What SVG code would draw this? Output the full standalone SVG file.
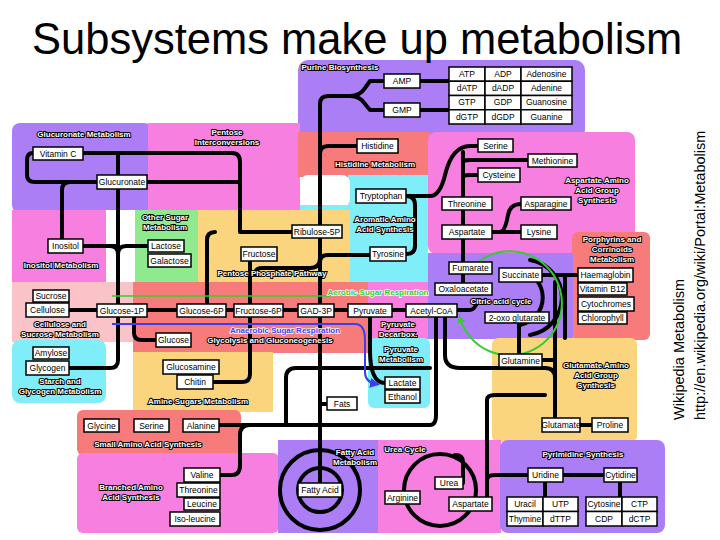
<svg xmlns="http://www.w3.org/2000/svg" width="720" height="540" viewBox="0 0 720 540">
<style>
.n rect{fill:#fff;stroke:#000;stroke-width:1.5}
.n text,.t{font-family:"Liberation Sans",Arial,sans-serif;font-size:8.5px;text-anchor:middle}
.l{font-family:"Liberation Sans",Arial,sans-serif;font-size:8px;font-weight:bold;fill:#fff;stroke:#000;stroke-width:2;paint-order:stroke;text-anchor:middle}
.c path,.c line,.c circle{fill:none;stroke:#000;stroke-width:4;stroke-linecap:round;stroke-linejoin:round}
</style>
<defs>
<marker id="ag" markerWidth="8" markerHeight="8" refX="5" refY="4" orient="auto" markerUnits="userSpaceOnUse"><path d="M0,0 L8,4 L0,8z" fill="#3c3"/></marker>
<marker id="ab" markerWidth="10" markerHeight="10" refX="6" refY="5" orient="auto" markerUnits="userSpaceOnUse"><path d="M0,0 L10,5 L0,10z" fill="#3c3cf0"/></marker>
</defs>
<rect width="720" height="540" fill="#fff"/>
<g id="regions">
<rect x="298" y="60" width="287" height="80" rx="10" fill="#ab7ef5"/>
<rect x="12" y="123" width="140" height="90" rx="8" fill="#ab7ef5"/>
<rect x="148" y="123" width="152" height="90" fill="#f77fe0"/>
<rect x="298" y="132" width="132" height="45" fill="#f77b7b"/>
<rect x="428" y="132" width="207" height="122" rx="8" fill="#f77fe0"/>
<rect x="348" y="175" width="80" height="107" fill="#80eef8"/>
<rect x="300" y="175" width="50" height="32" rx="8" fill="#fff"/>
<rect x="300" y="205" width="50" height="77" fill="#80eef8"/>
<rect x="12" y="210" width="94" height="72" fill="#f77fe0"/>
<rect x="106" y="210" width="29" height="72" fill="#fff"/>
<rect x="135" y="210" width="64" height="72" fill="#8fea8f"/>
<rect x="198" y="210" width="152" height="72" fill="#fad57d"/>
<rect x="572" y="232" width="78" height="108" rx="6" fill="#f77b7b"/>
<rect x="428" y="253" width="145" height="86" fill="#ab7ef5"/>
<rect x="12" y="282" width="94" height="60" fill="#f9c3c8"/>
<rect x="12" y="340" width="94" height="63" rx="8" fill="#80eef8"/>
<rect x="106" y="282" width="29" height="60" fill="#f9c3c8"/>
<rect x="133" y="282" width="236" height="71" fill="#f77b7b"/>
<rect x="368" y="282" width="60" height="57" fill="#f77fe0"/>
<rect x="368" y="338" width="62" height="70" rx="6" fill="#80eef8"/>
<rect x="133" y="352" width="140" height="60" fill="#fad57d"/>
<rect x="492" y="338" width="145" height="104" rx="6" fill="#fad57d"/>
<rect x="77" y="410" width="164" height="45" rx="6" fill="#f77b7b"/>
<rect x="77" y="453" width="202" height="80" rx="6" fill="#f77fe0"/>
<rect x="278" y="440" width="101" height="93" fill="#ab7ef5"/>
<rect x="378" y="440" width="123" height="93" fill="#f77fe0"/>
<rect x="500" y="440" width="165" height="93" rx="8" fill="#ab7ef5"/>
</g>
<text x="32" y="54" font-family="Liberation Sans,Arial,sans-serif" font-size="43.5">Subsystems make up metabolism</text>
<text transform="translate(684,420) rotate(-90)" font-family="Liberation Sans,Arial,sans-serif" font-size="14.5">Wikipedia Metabolism</text>
<text transform="translate(705,420) rotate(-90)" font-family="Liberation Sans,Arial,sans-serif" font-size="14.5">http://en.wikipedia.org/wiki/Portal:Metabolism</text>
<g id="connectors" class="c">
<path d="M83,153 H232 Q240,153 240,162 V232 H292"/>
<path d="M33,153 Q27,153 27,160 V175 Q27,182 35,182 H240"/>
<path d="M118,153 V360 Q118,368 110,368 H69"/>
<path d="M70,182 Q62,182 62,190 V246 H118"/>
<path d="M83,246 H110 Q118,246 118,254"/>
<path d="M148,246 H126 Q118,246 118,254"/>
<path d="M207,310 V240 Q207,232 215,232"/>
<path d="M69,310 H406"/>
<path d="M134,317 V333 Q134,340 142,340 H156"/>
<path d="M250,261 V374 Q250,382 242,382 H213"/>
<path d="M320,104 V490"/>
<path d="M320,104 Q320,96 328,96 H350 Q360,96 365,88 L370,81 H384"/>
<path d="M350,96 Q360,96 365,104 L370,110 H384"/>
<path d="M420,81 H449 M420,110 H449"/>
<path d="M320,154 Q320,146 328,146 H357"/>
<path d="M320,258 Q320,268 310,268 H262 Q255,268 255,275"/>
<path d="M320,262 Q320,255 328,255 H370"/>
<path d="M406,196 Q415,196 415,205 V246 Q415,254 406,254"/>
<path d="M406,196 H430 Q440,196 445,175 Q452,146 470,146 H478"/>
<path d="M463,152 V283"/>
<path d="M463,162 Q463,160 470,160 H528 M463,178 Q463,175 470,175 H478"/>
<path d="M492,232 H521 M500,232 Q505,232 508,215 Q510,204 521,204"/>
<path d="M542,275 H578 M565,275 V338"/>
<path d="M457,310 H470 Q475,310 478,300"/>
<path d="M530,260 A38,38 0 0 1 530,335 M520,270 A28,28 0 0 1 520,325"/>
<path d="M519,323 V354"/>
<path d="M445,310 V355 Q445,368 460,368 H545 Q555,368 555,378 V418"/>
<path d="M555,282 V418 M580,425 H592"/>
<path d="M542,360 H555"/>
<path d="M370,310 V350 Q370,383 385,383"/>
<path d="M219,425 H430 Q436,425 436,415 V317"/>
<path d="M430,368 H296 Q286,368 286,378 V425"/>
<path d="M320,404 H327"/>
<path d="M220,475 H232 Q240,475 240,465 V435 Q240,425 250,425"/>
<circle cx="320" cy="490" r="22"/>
<circle cx="320" cy="490" r="40"/>
<circle cx="440" cy="490" r="36"/>
<path d="M487,497 V400 Q487,395 495,395 H545"/>
<path d="M487,480 Q487,475 495,475 H528 M563,475 H604 M545,475 V497 M620,482 V497"/>
<path d="M463,483 V462 Q463,455 455,455"/>
</g>
<g id="arrows" fill="none">
<path d="M112,296 H330" stroke="#3c3" stroke-width="1.5"/>
<path d="M112,324 H355 Q365,324 365,340 V372 Q365,382 376,384" stroke="#3c3cf0" stroke-width="2" marker-end="url(#ab)"/>
<path d="M470,270 A52,52 0 1 1 460,318" stroke="#3c3" stroke-width="2" marker-end="url(#ag)"/>
</g>
<g id="nodes">
<g class="n" id="n-vitc"><rect x="33" y="147" width="50" height="13"/><text x="58" y="157">Vitamin C</text></g>
<g class="n" id="n-glucuronate"><rect x="97" y="175" width="50" height="14"/><text x="122" y="185">Glucuronate</text></g>
<g class="n" id="n-inositol"><rect x="48" y="239" width="35" height="14"/><text x="65.5" y="249">Inositol</text></g>
<g class="n" id="n-lactose"><rect x="148" y="240" width="36" height="12"/><text x="166" y="249">Lactose</text></g>
<g class="n" id="n-galactose"><rect x="148" y="254" width="43" height="13"/><text x="169.5" y="264">Galactose</text></g>
<g class="n" id="n-fructose"><rect x="241" y="247" width="36" height="14"/><text x="259" y="257">Fructose</text></g>
<g class="n" id="n-ribulose"><rect x="292" y="225" width="50" height="13"/><text x="317" y="235">Ribulose-5P</text></g>
<g class="n" id="n-amp"><rect x="384" y="74" width="36" height="14"/><text x="402" y="84">AMP</text></g>
<g class="n" id="n-gmp"><rect x="384" y="103" width="36" height="14"/><text x="402" y="113">GMP</text></g>
<g class="n" id="n-purines">
<rect x="449" y="67" width="36" height="14.25"/><rect x="485" y="67" width="36" height="14.25"/><rect x="521" y="67" width="51" height="14.25"/>
<rect x="449" y="81.25" width="36" height="14.25"/><rect x="485" y="81.25" width="36" height="14.25"/><rect x="521" y="81.25" width="51" height="14.25"/>
<rect x="449" y="95.5" width="36" height="14.25"/><rect x="485" y="95.5" width="36" height="14.25"/><rect x="521" y="95.5" width="51" height="14.25"/>
<rect x="449" y="109.75" width="36" height="14.25"/><rect x="485" y="109.75" width="36" height="14.25"/><rect x="521" y="109.75" width="51" height="14.25"/>
<text x="467" y="77">ATP</text><text x="503" y="77">ADP</text><text x="546.5" y="77">Adenosine</text>
<text x="467" y="91">dATP</text><text x="503" y="91">dADP</text><text x="546.5" y="91">Adenine</text>
<text x="467" y="105">GTP</text><text x="503" y="105">GDP</text><text x="546.5" y="105">Guanosine</text>
<text x="467" y="120">dGTP</text><text x="503" y="120">dGDP</text><text x="546.5" y="120">Guanine</text>
</g>
<g class="n" id="n-histidine"><rect x="357" y="139" width="41" height="14"/><text x="377.5" y="149">Histidine</text></g>
<g class="n" id="n-tryptophan"><rect x="356" y="189" width="50" height="14"/><text x="381" y="199">Tryptophan</text></g>
<g class="n" id="n-tyrosine"><rect x="370" y="247" width="36" height="14"/><text x="388" y="257">Tyrosine</text></g>
<g class="n" id="n-serine"><rect x="478" y="139" width="35" height="13"/><text x="495.5" y="149">Serine</text></g>
<g class="n" id="n-methionine"><rect x="528" y="154" width="49" height="13"/><text x="552.5" y="164">Methionine</text></g>
<g class="n" id="n-cysteine"><rect x="478" y="168" width="42" height="14"/><text x="499" y="178">Cysteine</text></g>
<g class="n" id="n-threonine"><rect x="442" y="197" width="50" height="13"/><text x="467" y="207">Threonine</text></g>
<g class="n" id="n-asparagine"><rect x="521" y="197" width="50" height="13"/><text x="546" y="207">Asparagine</text></g>
<g class="n" id="n-aspartate"><rect x="442" y="225" width="50" height="14"/><text x="467" y="235">Aspartate</text></g>
<g class="n" id="n-lysine"><rect x="521" y="225" width="36" height="14"/><text x="539" y="235">Lysine</text></g>
<g class="n" id="n-fumarate"><rect x="449" y="262" width="43" height="12"/><text x="470.5" y="271">Fumarate</text></g>
<g class="n" id="n-succinate"><rect x="499" y="268" width="43" height="14"/><text x="520.5" y="278">Succinate</text></g>
<g class="n" id="n-oxaloacetate"><rect x="435" y="283" width="57" height="12"/><text x="463.5" y="292">Oxaloacetate</text></g>
<g class="n" id="n-porph">
<rect x="578" y="268" width="55" height="14"/><text x="605.5" y="278">Haemaglobin</text>
<rect x="578" y="283" width="49" height="12"/><text x="602.5" y="292">Vitamin B12</text>
<rect x="578" y="297" width="56" height="14"/><text x="606" y="307">Cytochromes</text>
<rect x="578" y="312" width="49" height="12"/><text x="602.5" y="321">Chlorophyll</text>
</g>
<g class="n" id="n-sucrose"><rect x="33" y="290" width="36" height="12"/><text x="51" y="299">Sucrose</text></g>
<g class="n" id="n-cellulose"><rect x="26" y="303" width="43" height="14"/><text x="47.5" y="313">Cellulose</text></g>
<g class="n" id="n-g1p"><rect x="97" y="304" width="50" height="13"/><text x="122" y="314">Glucose-1P</text></g>
<g class="n" id="n-g6p"><rect x="177" y="304" width="49" height="13"/><text x="201.5" y="314">Glucose-6P</text></g>
<g class="n" id="n-f6p"><rect x="234" y="304" width="49" height="13"/><text x="258.5" y="314">Fructose-6P</text></g>
<g class="n" id="n-gad"><rect x="298" y="304" width="36" height="13"/><text x="316" y="314">GAD-3P</text></g>
<g class="n" id="n-pyruvate"><rect x="348" y="304" width="44" height="13"/><text x="370" y="314">Pyruvate</text></g>
<g class="n" id="n-acetyl"><rect x="406" y="304" width="51" height="13"/><text x="431.5" y="314">Acetyl-CoA</text></g>
<g class="n" id="n-oxo"><rect x="485" y="312" width="64" height="11"/><text x="517" y="321">2-oxo glutarate</text></g>
<g class="n" id="n-glucose"><rect x="156" y="333" width="35" height="14"/><text x="173.5" y="343">Glucose</text></g>
<g class="n" id="n-amylose"><rect x="33" y="347" width="36" height="12"/><text x="51" y="356">Amylose</text></g>
<g class="n" id="n-glycogen"><rect x="26" y="361" width="43" height="14"/><text x="47.5" y="371">Glycogen</text></g>
<g class="n" id="n-glucosamine"><rect x="163" y="360" width="56" height="14"/><text x="191" y="370">Glucosamine</text></g>
<g class="n" id="n-chitin"><rect x="177" y="375" width="36" height="14"/><text x="195" y="385">Chitin</text></g>
<g class="n" id="n-glutamine"><rect x="499" y="354" width="43" height="13"/><text x="520.5" y="364">Glutamine</text></g>
<g class="n" id="n-lactate"><rect x="385" y="377" width="35" height="12"/><text x="402.5" y="386">Lactate</text></g>
<g class="n" id="n-ethanol"><rect x="385" y="390" width="35" height="13"/><text x="402.5" y="400">Ethanol</text></g>
<g class="n" id="n-fats"><rect x="327" y="397" width="30" height="13"/><text x="342" y="407">Fats</text></g>
<g class="n" id="n-glycine"><rect x="84" y="419" width="35" height="13"/><text x="101.5" y="429">Glycine</text></g>
<g class="n" id="n-serine2"><rect x="134" y="419" width="35" height="13"/><text x="151.5" y="429">Serine</text></g>
<g class="n" id="n-alanine"><rect x="183" y="419" width="36" height="13"/><text x="201" y="429">Alanine</text></g>
<g class="n" id="n-glutamate"><rect x="542" y="418" width="38" height="14"/><text x="561" y="428">Glutamate</text></g>
<g class="n" id="n-proline"><rect x="592" y="418" width="36" height="14"/><text x="610" y="428">Proline</text></g>
<g class="n" id="n-branched">
<rect x="184" y="468" width="36" height="14"/><text x="202" y="478">Valine</text>
<rect x="177" y="483" width="43" height="14"/><text x="198.5" y="493">Threonine</text>
<rect x="184" y="498" width="36" height="12"/><text x="202" y="507">Leucine</text>
<rect x="170" y="512" width="50" height="14"/><text x="195" y="522">Iso-leucine</text>
</g>
<g class="n" id="n-fattyacid"><rect x="298" y="483" width="44" height="14"/><text x="320" y="493">Fatty Acid</text></g>
<g class="n" id="n-urea"><rect x="435" y="477" width="28" height="12"/><text x="449" y="486">Urea</text></g>
<g class="n" id="n-arginine"><rect x="385" y="491" width="35" height="13"/><text x="402.5" y="501">Arginine</text></g>
<g class="n" id="n-aspartate2"><rect x="449" y="497" width="43" height="14"/><text x="470.5" y="507">Aspartate</text></g>
<g class="n" id="n-uridine"><rect x="528" y="468" width="35" height="14"/><text x="545.5" y="478">Uridine</text></g>
<g class="n" id="n-cytidine"><rect x="604" y="468" width="33" height="14"/><text x="620.5" y="478">Cytidine</text></g>
<g class="n" id="n-pyr">
<rect x="507" y="497" width="36" height="14.5"/><rect x="543" y="497" width="35" height="14.5"/>
<rect x="507" y="511.5" width="36" height="14.5"/><rect x="543" y="511.5" width="35" height="14.5"/>
<text x="525" y="507">Uracil</text><text x="560.5" y="507">UTP</text>
<text x="525" y="522">Thymine</text><text x="560.5" y="522">dTTP</text>
<rect x="586" y="497" width="36" height="14.5"/><rect x="622" y="497" width="35" height="14.5"/>
<rect x="586" y="511.5" width="36" height="14.5"/><rect x="622" y="511.5" width="35" height="14.5"/>
<text x="604" y="507">Cytosine</text><text x="639.5" y="507">CTP</text>
<text x="604" y="522">CDP</text><text x="639.5" y="522">dCTP</text>
</g>
</g>
<g id="labels">
<text class="l" x="340" y="70">Purine Biosynthesis</text>
<text class="l" x="84" y="137">Glucuronate Metabolism</text>
<text class="l" x="227" y="135">Pentose</text><text class="l" x="227" y="145">Interconversions</text>
<text class="l" x="375" y="167">Histidine Metabolism</text>
<text class="l" x="385" y="222">Aromatic Amino</text><text class="l" x="385" y="232">Acid Synthesis</text>
<text class="l" x="597" y="183">Aspartate Amino</text><text class="l" x="597" y="193">Acid Group</text><text class="l" x="597" y="203">Synthesis</text>
<text class="l" x="612" y="242">Porphyrins and</text><text class="l" x="612" y="252">Corrinoids</text><text class="l" x="612" y="262">Metabolism</text>
<text class="l" x="165" y="220">Other Sugar</text><text class="l" x="165" y="230">Metabolism</text>
<text class="l" x="61" y="268">Inositol Metabolism</text>
<text class="l" x="272" y="276">Pentose Phosphate Pathway</text>
<text class="l" x="378" y="295" style="fill:#3c3;stroke:#fff;stroke-width:1.5">Aerobic Sugar Respiration</text>
<text class="l" x="501" y="304">Citric acid cycle</text>
<text class="l" x="60" y="327">Cellulose and</text><text class="l" x="60" y="337">Sucrose Metabolism</text>
<text class="l" x="285" y="333" style="fill:#3c3cf0;stroke:#fff;stroke-width:1.5">Anaerobic Sugar Respiration</text>
<text class="l" x="270" y="343">Glycolysis and Gluconeogenesis</text>
<text class="l" x="398" y="327">Pyruvate</text><text class="l" x="398" y="337">Decarbox.</text>
<text class="l" x="401" y="352">Pyruvate</text><text class="l" x="401" y="362">Metabolism</text>
<text class="l" x="596" y="368">Glutamate Amino</text><text class="l" x="596" y="378">Acid Group</text><text class="l" x="596" y="388">Synthesis</text>
<text class="l" x="60" y="384">Starch and</text><text class="l" x="60" y="394">Glycogen Metabolism</text>
<text class="l" x="198" y="404">Amine Sugars Metabolism</text>
<text class="l" x="148" y="447">Small Amino Acid Synthesis</text>
<text class="l" x="131" y="490">Branched Amino</text><text class="l" x="131" y="500">Acid Synthesis</text>
<text class="l" x="355" y="455">Fatty Acid</text><text class="l" x="355" y="465">Metabolism</text>
<text class="l" x="405" y="452">Urea Cycle</text>
<text class="l" x="583" y="457">Pyrimidine Synthesis</text>
</g>
</svg>
